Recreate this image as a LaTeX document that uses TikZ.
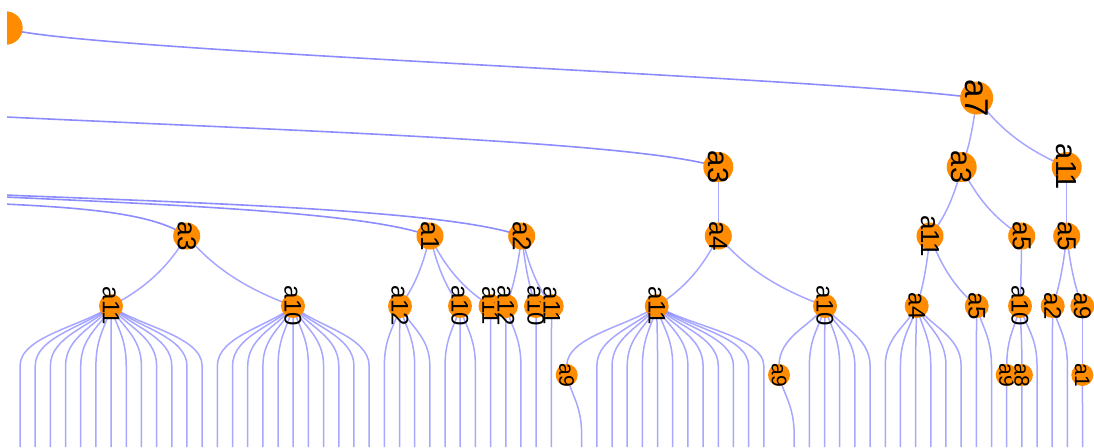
\documentclass[tikz,border=0pt]{standalone}
\usepackage{fontspec}
\setmainfont{Liberation Sans}
\usetikzlibrary{backgrounds,calc}
\definecolor{nodeorange}{RGB}{255,140,0}
\definecolor{linkblue}{RGB}{120,120,255}
\tikzset{
  dot/.style={circle,fill=nodeorange,inner sep=0pt,minimum size=#1},
  tag/.style={rotate=-90,inner sep=0pt,text=black,font=\fontsize{#1pt}{#1pt}\selectfont},
  d1/.style={dot=16.5pt,label={[tag=16.5]center:#1}},
  d2/.style={dot=15pt,label={[tag=14.5]center:#1}},
  d3/.style={dot=13.5pt,label={[tag=13]center:#1}},
  d4/.style={dot=12pt,label={[tag=12]center:#1}},
  d5/.style={dot=11pt,label={[tag=10.5]center:#1}},
  link/.style={draw=linkblue,line width=0.75pt,draw opacity=0.65},
  trunk/.style={link,line width=0.8pt,draw opacity=0.85},
  % gently bowed branch between two tree levels
  branch/.style={to path={let \p1=(\tikztostart),\p2=(\tikztotarget) in
    .. controls ({\x1+0.25*(\x2-\x1)},{\y1+0.45*(\y2-\y1)})
    and ({\x2-0.45*(\x2-\x1)},{\y2-0.25*(\y2-\y1)}) .. (\tikztotarget)}},
  % fan-out line: leaves the parent sideways, then runs straight down
  fan/.style={to path={let \p1=(\tikztostart),\p2=(\tikztotarget) in
    .. controls ({\x1+0.3*(\x2-\x1)},{\y1-10pt}) and (\x2,{\y1-15pt})
    .. (\x2,{\y1-30pt}) -- (\tikztotarget)}}
}
% leaf lines of a parent node, one per slot at the bottom edge
\newcommand\fanout[2]{%
  \foreach \k in {#2}{%
    \coordinate (#1-leaf\k) at ({20+15.18*\k},447);
    \draw[link] (#1.center) to[fan] (#1-leaf\k);
  }}
\begin{document}
\begin{tikzpicture}[x=0.5pt,y=-0.5pt]
\useasboundingbox (0,0) rectangle (1094,447);
\clip (7,0) rectangle (1094,447);

% nodes
\node[dot=16.7pt] (root) at (6,28) {};
\node[d1=a7] (a7) at (976.7,98) {};
\node[d2=a3] (a3r) at (961.7,167) {};
\node[d2=a11] (a11r) at (1066.7,167) {};
\node[d2=a3] (a3m) at (718.3,167) {};

\node[d3=a3] (a3l) at (186.7,236) {};
\node[d3=a1] (a1) at (430,236) {};
\node[d3=a2] (a2) at (521.7,236) {};
\node[d3=a4] (a4m) at (718.3,236) {};
\node[d3=a11] (a11q) at (930,236) {};
\node[d3=a5] (a5q) at (1021.7,236) {};
\node[d3=a5] (a5r) at (1066.7,236) {};

\node[d4=a11] (a11l) at (111,306) {};
\node[d4=a10] (a10l) at (293,306) {};
\node[d4=a12] (a12a) at (400,306) {};
\node[d4=a10] (a10a) at (460,306) {};
\node[d4=a11] (a11a) at (490.5,306) {};
\node[d4=a12] (a12b) at (506,306) {};
\node[d4=a10] (a10b) at (536,306) {};
\node[d4=a11] (a11b) at (551.7,306) {};
\node[d4=a11] (a11m) at (656.7,306) {};
\node[d4=a10] (a10m) at (825,306) {};
\node[d4=a4] (a4q) at (916.7,306) {};
\node[d4=a5] (a5s) at (976.7,306) {};
\node[d4=a10] (a10q) at (1020,306) {};
\node[d4=a2] (a2r) at (1052.7,306) {};
\node[d4=a9] (a9r) at (1082.3,306) {};

\node[d5=a9] (a9m) at (566.7,375) {};
\node[d5=a9] (a9n) at (779,375) {};
\node[d5=a9] (a9q) at (1006.7,375) {};
\node[d5=a8] (a8q) at (1021.9,375) {};
\node[d5=a1] (a1r) at (1082.3,375) {};

% connectors, behind the nodes
\begin{scope}[on background layer]
\clip (7,0) rectangle (1094,447);
\coordinate (in1) at (0,116.7);
\coordinate (in2) at (0,203.8);
\coordinate (in3) at (0,196.8);
\coordinate (in4) at (0,194.8);
\draw[trunk] (root.center) .. controls (60,50) and (820,77) .. (a7.center);
\draw[trunk] (in1) .. controls (300,131) and (640,142) .. (a3m.center);
\draw[trunk] (in2) .. controls (90,208) and (155,214) .. (a3l.center);
\draw[trunk] (in3) .. controls (180,205) and (370,213) .. (a1.center);
\draw[trunk] (in4) .. controls (200,203) and (450,210) .. (a2.center);

\foreach \p/\c in {a7/a3r,a7/a11r,a3r/a11q,a3r/a5q,a11r/a5r,a3m/a4m,
    a3l/a11l,a3l/a10l,a1/a12a,a1/a10a,a1/a11a,a2/a12b,a2/a10b,a2/a11b,
    a4m/a11m,a4m/a10m,a11q/a4q,a11q/a5s,a5q/a10q,a5r/a2r,a5r/a9r}
  \draw[link] (\p.center) to[branch] (\c.center);

\foreach \p/\c in {a11m/a9m,a10m/a9n,a10q/a9q,a10q/a8q,a9r/a1r}
  \draw[link] (\p.center) to[fan] (\c.center);

\fanout{a11l}{0,...,12}
\fanout{a10l}{13,...,23}
\fanout{a12a}{24,...,27}
\fanout{a10a}{28,29,30}
\fanout{a11a}{31}
\fanout{a12b}{32,33}
\fanout{a10b}{34}
\fanout{a11b}{35}
\fanout{a9m}{37}
\fanout{a11m}{38,...,49}
\fanout{a9n}{51}
\fanout{a10m}{52,...,56}
\fanout{a4q}{57,...,62}
\fanout{a5s}{63,64}
\fanout{a9q}{65}
\fanout{a8q}{66}
\fanout{a10q}{67}
\fanout{a2r}{68,69}
\fanout{a1r}{70}
\end{scope}
\end{tikzpicture}
\end{document}
